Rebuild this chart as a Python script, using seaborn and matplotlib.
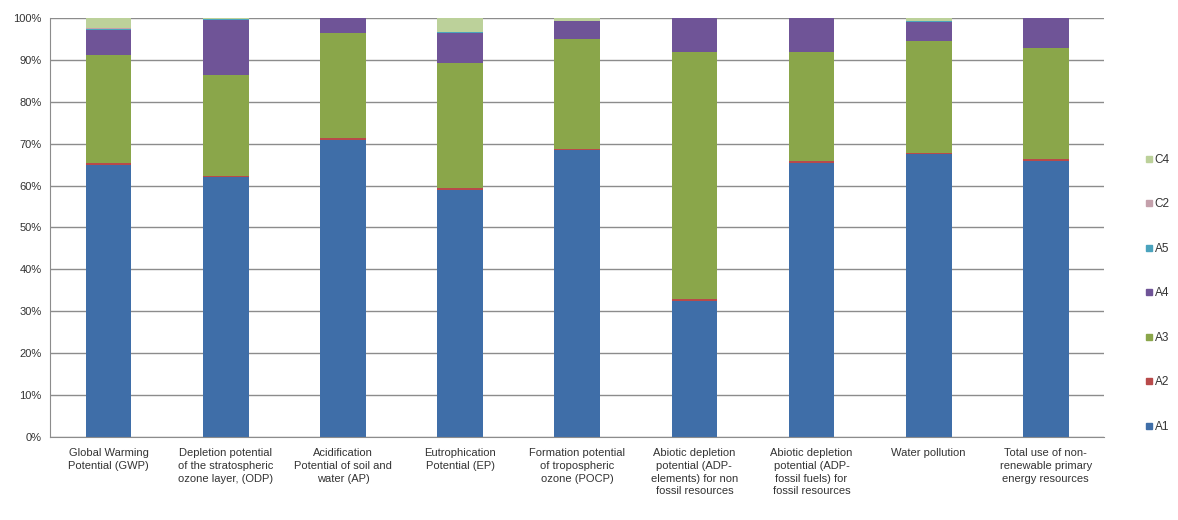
import matplotlib
matplotlib.use("Agg")
import matplotlib.pyplot as plt
from matplotlib.lines import Line2D
from matplotlib.ticker import FixedLocator, PercentFormatter
import numpy as np
import pandas as pd
import seaborn as sns

# --- data (share of each life-cycle stage, %) ---
categories = [
    "Global Warming\nPotential (GWP)",
    "Depletion potential\nof the stratospheric\nozone layer, (ODP)",
    "Acidification\nPotential of soil and\nwater (AP)",
    "Eutrophication\nPotential (EP)",
    "Formation potential\nof tropospheric\nozone (POCP)",
    "Abiotic depletion\npotential (ADP-\nelements) for non\nfossil resources",
    "Abiotic depletion\npotential (ADP-\nfossil fuels) for\nfossil resources",
    "Water pollution",
    "Total use of non-\nrenewable primary\nenergy resources",
]
stages = ["A1", "A2", "A3", "A4", "A5", "C2", "C4"]
A1 = [65.0, 62.0, 71.0, 59.0, 68.5, 32.5, 65.5, 67.5, 66.0]
A2 = [0.4, 0.3, 0.3, 0.4, 0.3, 0.5, 0.4, 0.3, 0.4]
A3 = [25.9, 24.2, 25.2, 29.9, 26.2, 59.0, 26.1, 26.7, 26.6]
A4 = [6.0, 13.0, 3.5, 7.2, 4.3, 8.0, 8.0, 4.5, 7.0]
A5 = [0.2, 0.3, 0.0, 0.1, 0.0, 0.0, 0.0, 0.4, 0.0]
C2 = [0.1, 0.0, 0.0, 0.1, 0.0, 0.0, 0.0, 0.0, 0.0]
C4 = [2.4, 0.2, 0.0, 3.3, 0.7, 0.0, 0.0, 0.6, 0.0]

colors = {
    "A1": "#3f6ea8",
    "A2": "#b84a4a",
    "A3": "#8aa64a",
    "A4": "#6f5497",
    "A5": "#4aa3bd",
    "C2": "#c4a0ab",
    "C4": "#bcd19a",
}

df = pd.DataFrame({"A1": A1, "A2": A2, "A3": A3, "A4": A4,
                   "A5": A5, "C2": C2, "C4": C4}, index=categories)
cum = df[stages].cumsum(axis=1)

sns.set_style("white")
plt.rcParams["font.family"] = ["Liberation Sans", "DejaVu Sans"]

fig = plt.figure(figsize=(11.78, 5.2), dpi=100)
ax = fig.add_axes([0.0425, 0.16, 0.895, 0.805])

# draw stacked bars from the top layer down
for st in reversed(stages):
    sns.barplot(x=categories, y=cum[st].values, order=categories,
                color=colors[st], width=0.39, saturation=1,
                linewidth=0, edgecolor="none", ax=ax, zorder=2)

ax.set_ylim(0, 100)
ax.set_xlim(-0.5, len(categories) - 0.5)
ax.yaxis.set_major_locator(FixedLocator(np.arange(0, 101, 10)))
ax.yaxis.set_major_formatter(PercentFormatter(decimals=0))
ax.grid(axis="y", color="#8c8c8c", linewidth=1, zorder=0)
ax.set_axisbelow(True)

for s in ["top", "right"]:
    ax.spines[s].set_visible(False)
for s in ["left", "bottom"]:
    ax.spines[s].set_color("#8c8c8c")

ax.set_xticks(range(len(categories)))
ax.set_xticklabels(categories, fontsize=8, color="#333333", linespacing=1.35)
ax.xaxis.set_minor_locator(FixedLocator(np.arange(-0.5, len(categories), 1)))
ax.tick_params(axis="x", which="major", length=0, pad=8)
ax.tick_params(axis="x", which="minor", length=5, color="#8c8c8c", direction="out")
ax.tick_params(axis="y", length=4, color="#8c8c8c", direction="out",
               labelsize=8, labelcolor="#333333", pad=2)
for lbl in ax.get_xticklabels():
    lbl.set_verticalalignment("top")

handles = [Line2D([0], [0], marker="s", linestyle="none", markersize=5,
                  markerfacecolor=colors[st], markeredgecolor=colors[st])
           for st in reversed(stages)]
fig.legend(handles, list(reversed(stages)), loc="center left",
           bbox_to_anchor=(0.962, 0.436), frameon=False, fontsize=8.5,
           labelspacing=2.75, handletextpad=0.1, handlelength=0.8,
           labelcolor="#333333")

fig.savefig("out.png", dpi=100)
